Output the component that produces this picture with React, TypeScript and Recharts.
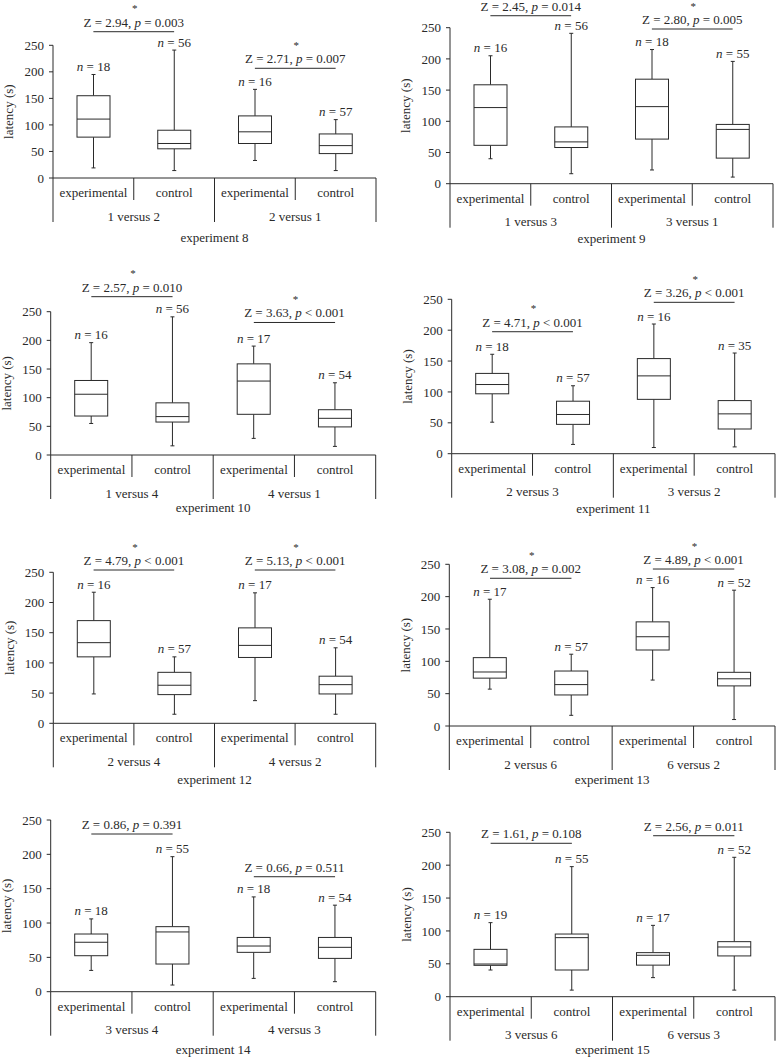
import React from 'react';
import { ComposedChart, Bar, XAxis, YAxis, ReferenceLine } from 'recharts';

const FONT = '"Liberation Serif", "Times New Roman", Times, serif';
const INK = '#2a2a2a';

// ---------- data ----------
const CATEGORY_KEYS = ['e1', 'c1', 'e2', 'c2'];
const CATEGORY_LABELS = ['experimental', 'control', 'experimental', 'control'];
const Y_TICKS = [0, 50, 100, 150, 200, 250];

const EXPERIMENTS = [8, 9, 10, 11, 12, 13, 14, 15];

const GROUPS = [
  ['1 versus 2', '2 versus 1'],
  ['1 versus 3', '3 versus 1'],
  ['1 versus 4', '4 versus 1'],
  ['2 versus 3', '3 versus 2'],
  ['2 versus 4', '4 versus 2'],
  ['2 versus 6', '6 versus 2'],
  ['3 versus 4', '4 versus 3'],
  ['3 versus 6', '6 versus 3'],
];

const SAMPLE_SIZES = [
  [18, 56, 16, 57],
  [16, 56, 18, 55],
  [16, 56, 17, 54],
  [18, 57, 16, 35],
  [16, 57, 17, 54],
  [17, 57, 16, 52],
  [18, 55, 18, 54],
  [19, 55, 17, 52],
];

// each box: [min, q1, median, q3, max] latency (s)
const exp8Boxes = [
  [19, 77, 111, 155, 195],
  [14, 55, 65, 90, 241],
  [33, 65, 87, 117, 167],
  [14, 46, 61, 83, 110],
];
const exp9Boxes = [
  [40, 61.5, 122, 158.5, 205],
  [16, 58, 67, 91, 241],
  [22, 71.5, 123.5, 167.5, 215],
  [10.6, 41, 87, 95, 196],
];
const exp10Boxes = [
  [55, 68, 106, 130, 196],
  [16, 57.5, 67, 91, 241],
  [29, 71, 129, 159, 190],
  [15, 49, 64, 79, 126],
];
const exp11Boxes = [
  [51, 97, 112, 130, 161],
  [15, 47.5, 63.5, 85, 110],
  [10, 88, 126, 154, 210],
  [11, 40, 64.5, 86, 163],
];
const exp12Boxes = [
  [48.6, 110, 133.5, 170, 217],
  [15, 47.5, 63, 84.4, 110],
  [37.5, 109, 129, 158, 216],
  [15, 48.6, 64, 78, 125],
];
const exp13Boxes = [
  [57, 74, 83.5, 105.7, 196],
  [16.5, 48, 64, 85, 111],
  [71, 117.5, 138, 161, 214],
  [10, 62, 73, 83, 210],
];
const exp14Boxes = [
  [31, 52.4, 72, 84, 106],
  [9.7, 40.3, 87, 94.7, 196.6],
  [19.4, 57.3, 66.5, 79, 138],
  [14.6, 48.5, 64.6, 79, 126],
];
const exp15Boxes = [
  [40.6, 47.7, 49.7, 72, 112.6],
  [10, 40.6, 89.8, 95.3, 197.8],
  [29, 48, 63, 67, 108.5],
  [10, 62, 75.6, 83.7, 212],
];
const BOXES = [exp8Boxes, exp9Boxes, exp10Boxes, exp11Boxes, exp12Boxes, exp13Boxes, exp14Boxes, exp15Boxes];

const Z_VALUES = [
  ['2.94', '2.71'], ['2.45', '2.80'], ['2.57', '3.63'], ['4.71', '3.26'],
  ['4.79', '5.13'], ['3.08', '4.89'], ['0.86', '0.66'], ['1.61', '2.56'],
];
const P_VALUES = [
  ['= 0.003', '= 0.007'], ['= 0.014', '= 0.005'], ['= 0.010', '< 0.001'], ['< 0.001', '< 0.001'],
  ['< 0.001', '< 0.001'], ['= 0.002', '< 0.001'], ['= 0.391', '= 0.511'], ['= 0.108', '= 0.011'],
];
const STAR_SHOWN = [
  [true, true], [false, true], [true, true], [true, true],
  [true, true], [true, true], [false, false], [false, false],
];
// height of the comparison bracket, in latency units
const BRACKET_LEVELS = [
  [275.6, 206.7], [269.2, 247.9], [276.2, 231.2], [197.5, 245.1],
  [253.8, 253.8], [228.4, 242.7], [229.6, 167.4], [233.3, 244.8],
];

// ---------- layout ----------
const PANELS = [
  { left: 0, top: 0, width: 390, height: 255, axisX: 53, yTop: 45.3, yBot: 178, xRight: 376, titleDy: 60 },
  { left: 388, top: 0, width: 389, height: 255, axisX: 450, yTop: 27.7, yBot: 183.7, xRight: 773, titleDy: 55.3 },
  { left: 0, top: 262, width: 390, height: 265, axisX: 50.7, yTop: 311.7, yBot: 455, xRight: 375.7, titleDy: 53.7 },
  { left: 388, top: 262, width: 389, height: 265, axisX: 451.7, yTop: 299.3, yBot: 453.7, xRight: 775, titleDy: 55.3 },
  { left: 0, top: 530, width: 390, height: 265, axisX: 53.3, yTop: 572.3, yBot: 723.3, xRight: 375.7, titleDy: 57.4 },
  { left: 388, top: 530, width: 389, height: 265, axisX: 449.3, yTop: 564.3, yBot: 726, xRight: 775, titleDy: 54.7 },
  { left: 0, top: 800, width: 390, height: 258, axisX: 50.7, yTop: 820, yBot: 991.7, xRight: 375.7, titleDy: 59 },
  { left: 388, top: 800, width: 389, height: 258, axisX: 450, yTop: 832.3, yBot: 996.7, xRight: 775, titleDy: 53.3 },
];

const YW = 50;
const XH = 60;

function BoxShape(props: any) {
  const { x, y, width, height } = props;
  const d = props.payload ?? props;
  const top = Math.min(y, y + height);
  const bot = Math.max(y, y + height);
  const span = d.max - d.min;
  const ppu = span > 0 ? (bot - top) / span : 0;
  const py = (v: number) => bot - (v - d.min) * ppu;
  const cx = x + width / 2;
  const yq3 = py(d.q3);
  const yq1 = py(d.q1);
  const ymed = py(d.med);
  const ymax = py(d.max);
  const ymin = py(d.min);
  return (
    <g>
      <line x1={cx} x2={cx} y1={ymax} y2={yq3} stroke={INK} strokeWidth={1} />
      <line x1={cx} x2={cx} y1={yq1} y2={ymin} stroke={INK} strokeWidth={1} />
      <line x1={cx - 2} x2={cx + 2} y1={ymax} y2={ymax} stroke={INK} strokeWidth={1} />
      <line x1={cx - 2} x2={cx + 2} y1={ymin} y2={ymin} stroke={INK} strokeWidth={1} />
      <rect x={x} y={yq3} width={width} height={yq1 - yq3} fill="#fff" stroke={INK} strokeWidth={1} />
      <line x1={x} x2={x + width} y1={ymed} y2={ymed} stroke={INK} strokeWidth={1} />
      <text x={cx} y={ymax - 3.5} textAnchor="middle" fontSize={13} fill={INK} style={{ whiteSpace: 'pre' }}>
        <tspan fontStyle="italic">n</tspan>
        <tspan>{` = ${d.n}`}</tspan>
      </text>
    </g>
  );
}

function makeTick(idx: number, half: number) {
  return (props: any) => {
    const { x, y, payload } = props;
    const i = CATEGORY_KEYS.indexOf(payload.value);
    const h = payload.offset > 0 ? payload.offset : half;
    return (
      <g>
        <text x={x} y={y + 19} textAnchor="middle" fontSize={13} fill={INK}>
          {CATEGORY_LABELS[i]}
        </text>
        {i === 0 && <line x1={x - h} x2={x - h} y1={y} y2={y + 44} stroke={INK} strokeWidth={1} />}
        <line x1={x + h} x2={x + h} y1={y} y2={y + (i % 2 === 1 ? 44 : 22)} stroke={INK} strokeWidth={1} />
        {i % 2 === 0 && (
          <text x={x + h} y={y + 42.5} textAnchor="middle" fontSize={13} fill={INK}>
            {GROUPS[idx][i / 2]}
          </text>
        )}
      </g>
    );
  };
}

function makeBracketLabel(z: string, p: string, star: boolean) {
  return (props: any) => {
    const vb = props.viewBox || {};
    const cx = vb.x + (vb.width || 0) / 2;
    const ly = vb.y;
    return (
      <g>
        <text x={cx} y={ly - 5} textAnchor="middle" fontSize={13} fill={INK} style={{ whiteSpace: 'pre' }}>
          <tspan>{`Z = ${z}, `}</tspan>
          <tspan fontStyle="italic">p</tspan>
          <tspan>{` ${p}`}</tspan>
        </text>
        {star && (
          <text x={cx + 1} y={ly - 19.5} textAnchor="middle" fontSize={11} fill={INK}>
            *
          </text>
        )}
      </g>
    );
  };
}

function Panel({ idx }: { idx: number }) {
  const L = PANELS[idx];
  const data = CATEGORY_KEYS.map((k, i) => {
    const b = BOXES[idx][i];
    return { key: k, min: b[0], q1: b[1], med: b[2], q3: b[3], max: b[4], n: SAMPLE_SIZES[idx][i] };
  });
  const margin = {
    top: L.yTop - L.top,
    left: L.axisX - L.left - YW,
    right: L.left + L.width - L.xRight,
    bottom: L.top + L.height - L.yBot - XH,
  };
  const half = (L.xRight - L.axisX) / 8;
  const titleDy = L.titleDy;
  return (
    <div style={{ position: 'absolute', left: L.left, top: L.top, width: L.width, height: L.height }}>
      <ComposedChart width={L.width} height={L.height} data={data} margin={margin}>
        <XAxis
          dataKey="key"
          type="category"
          height={XH}
          tickSize={0}
          tickMargin={0}
          interval={0}
          tickLine={false}
          axisLine={{ stroke: INK, strokeWidth: 1 }}
          tick={makeTick(idx, half)}
          label={(p: any) => {
            const vb = p.viewBox || {};
            return (
              <text x={vb.x + vb.width / 2} y={vb.y + titleDy + 3.5} textAnchor="middle" fontSize={13} fill={INK}>
                {`experiment ${EXPERIMENTS[idx]}`}
              </text>
            );
          }}
        />
        <YAxis
          type="number"
          domain={[0, 250]}
          ticks={Y_TICKS}
          interval={0}
          width={YW}
          tickSize={4}
          tickMargin={5}
          axisLine={{ stroke: INK, strokeWidth: 1 }}
          tickLine={{ stroke: INK, strokeWidth: 1 }}
          tick={{ fill: INK, fontSize: 13, fontFamily: FONT }}
          label={(p: any) => {
            const vb = p.viewBox || {};
            const cx = vb.x + vb.width - 44;
            const cy = vb.y + vb.height / 2;
            return (
              <text
                x={cx}
                y={cy}
                transform={`rotate(-90, ${cx}, ${cy})`}
                textAnchor="middle"
                dominantBaseline="central"
                fontSize={13}
                fill={INK}
              >
                latency (s)
              </text>
            );
          }}
        />
        <Bar
          dataKey={(d: any) => [d.min, d.max]}
          barSize={33}
          shape={BoxShape}
          isAnimationActive={false}
        />
        {[0, 1].map((g) => (
          <ReferenceLine
            key={g}
            segment={[
              { x: CATEGORY_KEYS[g * 2], y: BRACKET_LEVELS[idx][g] },
              { x: CATEGORY_KEYS[g * 2 + 1], y: BRACKET_LEVELS[idx][g] },
            ]}
            ifOverflow="visible"
            stroke={INK}
            strokeWidth={1}
            label={makeBracketLabel(Z_VALUES[idx][g], P_VALUES[idx][g], STAR_SHOWN[idx][g])}
          />
        ))}
      </ComposedChart>
    </div>
  );
}

export default function App() {
  return (
    <div
      style={{
        position: 'absolute',
        left: 0,
        top: 0,
        width: 777,
        height: 1058,
        background: '#fff',
        fontFamily: FONT,
        overflow: 'hidden',
      }}
    >
      {EXPERIMENTS.map((e, i) => (
        <Panel key={e} idx={i} />
      ))}
    </div>
  );
}
